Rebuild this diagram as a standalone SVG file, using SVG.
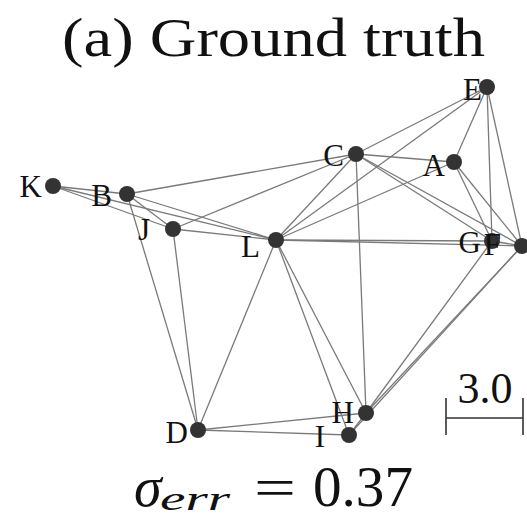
<svg xmlns="http://www.w3.org/2000/svg" width="527" height="519" viewBox="0 0 527 519">
<style>
.e{stroke:#7a7a7a;stroke-width:1.3;fill:none}
.n{fill:#333}
.l{font-family:"Liberation Serif",serif;font-size:31px;fill:#111;text-anchor:end}
.t{font-family:"Liberation Serif",serif;fill:#111}
</style>
<rect width="527" height="519" fill="#fff"/>
<text class="t" x="62" y="56" font-size="54" textLength="423" lengthAdjust="spacingAndGlyphs">(a) Ground truth</text>
<g id="edges">
<line class="e" x1="53" y1="186" x2="127" y2="194"/>
<line class="e" x1="53" y1="186" x2="173" y2="229"/>
<line class="e" x1="53" y1="186" x2="276" y2="240"/>
<line class="e" x1="127" y1="194" x2="356" y2="154"/>
<line class="e" x1="127" y1="194" x2="173" y2="229"/>
<line class="e" x1="127" y1="194" x2="276" y2="240"/>
<line class="e" x1="127" y1="194" x2="198" y2="430"/>
<line class="e" x1="173" y1="229" x2="198" y2="430"/>
<line class="e" x1="173" y1="229" x2="276" y2="240"/>
<line class="e" x1="173" y1="229" x2="356" y2="154"/>
<line class="e" x1="276" y1="240" x2="356" y2="154"/>
<line class="e" x1="276" y1="240" x2="487" y2="87"/>
<line class="e" x1="276" y1="240" x2="454" y2="162"/>
<line class="e" x1="276" y1="240" x2="492" y2="241"/>
<line class="e" x1="276" y1="240" x2="522" y2="246"/>
<line class="e" x1="276" y1="240" x2="198" y2="430"/>
<line class="e" x1="276" y1="240" x2="366" y2="413"/>
<line class="e" x1="276" y1="240" x2="349" y2="435"/>
<line class="e" x1="356" y1="154" x2="487" y2="87"/>
<line class="e" x1="356" y1="154" x2="454" y2="162"/>
<line class="e" x1="356" y1="154" x2="492" y2="241"/>
<line class="e" x1="356" y1="154" x2="522" y2="246"/>
<line class="e" x1="356" y1="154" x2="366" y2="413"/>
<line class="e" x1="487" y1="87" x2="454" y2="162"/>
<line class="e" x1="487" y1="87" x2="492" y2="241"/>
<line class="e" x1="487" y1="87" x2="522" y2="246"/>
<line class="e" x1="454" y1="162" x2="492" y2="241"/>
<line class="e" x1="454" y1="162" x2="522" y2="246"/>
<line class="e" x1="492" y1="241" x2="522" y2="246"/>
<line class="e" x1="366" y1="413" x2="492" y2="241"/>
<line class="e" x1="366" y1="413" x2="522" y2="246"/>
<line class="e" x1="349" y1="435" x2="522" y2="246"/>
<line class="e" x1="366" y1="413" x2="349" y2="435"/>
<line class="e" x1="198" y1="430" x2="366" y2="413"/>
<line class="e" x1="198" y1="430" x2="349" y2="435"/>
</g>
<g id="K"><circle class="n" cx="53" cy="186" r="8"/><text class="l" x="42" y="197">K</text></g>
<g id="B"><circle class="n" cx="127" cy="194" r="8"/><text class="l" x="112" y="206">B</text></g>
<g id="J"><circle class="n" cx="173" cy="229" r="8"/><text class="l" x="150" y="240">J</text></g>
<g id="L"><circle class="n" cx="276" cy="240" r="8"/><text class="l" x="260" y="257">L</text></g>
<g id="C"><circle class="n" cx="356" cy="154" r="8"/><text class="l" x="344" y="166">C</text></g>
<g id="A"><circle class="n" cx="454" cy="162" r="8"/><text class="l" x="445" y="176">A</text></g>
<g id="E"><circle class="n" cx="487" cy="87" r="8"/><text class="l" x="482" y="100">E</text></g>
<g id="G"><circle class="n" cx="492" cy="241" r="8"/><text class="l" x="481" y="253">G</text></g>
<g id="F"><circle class="n" cx="522" cy="246" r="8"/><text class="l" x="501" y="255">F</text></g>
<g id="D"><circle class="n" cx="198" cy="430" r="8"/><text class="l" x="188" y="443">D</text></g>
<g id="H"><circle class="n" cx="366" cy="413" r="8"/><text class="l" x="354" y="423">H</text></g>
<g id="I"><circle class="n" cx="349" cy="435" r="8"/><text class="l" x="325" y="447">I</text></g>
<g id="scale">
<path d="M446 398V435M523 398V435M446 418H523" stroke="#333" stroke-width="1.6" fill="none"/>
<text class="t" x="485" y="403" font-size="44" text-anchor="middle">3.0</text>
</g>
<g id="sigma">
<text class="t" x="134" y="506" font-size="56" font-style="italic">σ</text>
<text class="t" x="160" y="510" font-size="34" font-style="italic" textLength="70" lengthAdjust="spacingAndGlyphs">err</text>
<text class="t" x="254" y="506" font-size="54" textLength="42" lengthAdjust="spacingAndGlyphs">=</text>
<text class="t" x="313" y="506" font-size="56" textLength="100" lengthAdjust="spacingAndGlyphs">0.37</text>
</g>
</svg>
